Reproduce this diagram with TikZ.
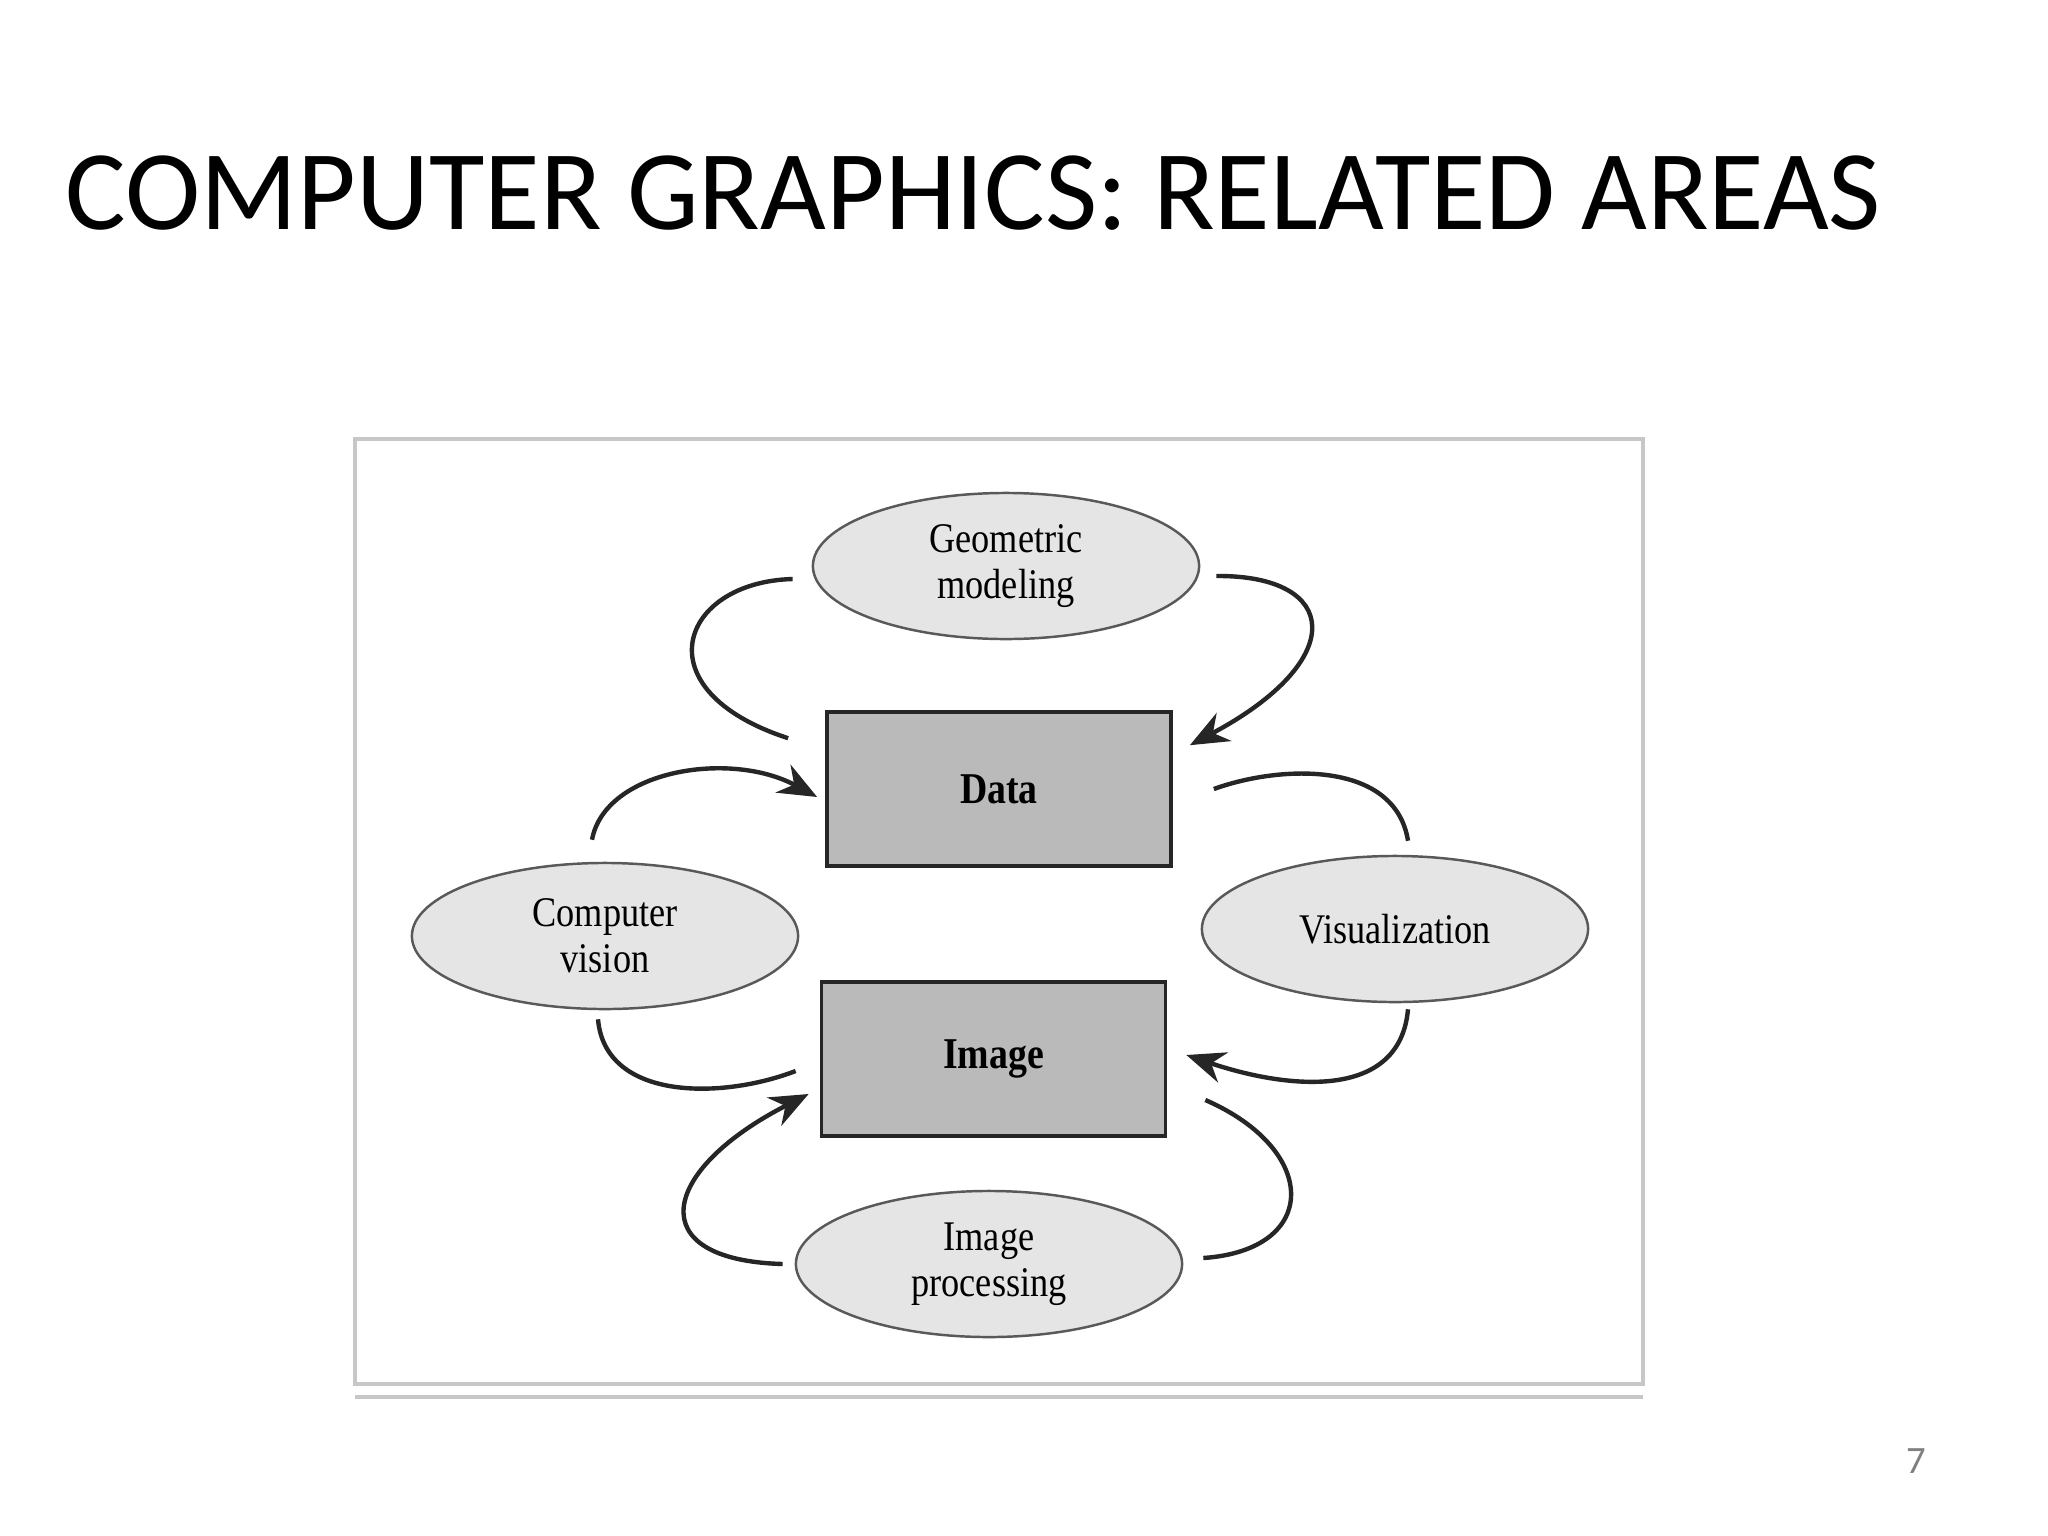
\documentclass[tikz,border=0pt]{standalone}
\usepackage{fontspec}
\setmainfont{Liberation Serif}
\newfontfamily\diagfont[FakeStretch=0.86]{Liberation Serif}
\newfontfamily\titlefont{Carlito}
\usetikzlibrary{shapes.geometric,arrows.meta}
\begin{document}
\begin{tikzpicture}[x=0.01cm,y=-0.01cm,
  area/.style={ellipse,draw=black!65,line width=0.7pt,fill=black!10,minimum width=3.86cm,minimum height=1.46cm,inner sep=0pt,align=center,font=\diagfont\fontsize{12}{13.2}\selectfont},
  core/.style={rectangle,draw=black!85,line width=1pt,fill=black!27,minimum width=3.44cm,minimum height=1.54cm,inner sep=0pt,font=\diagfont\fontsize{12.5}{14}\selectfont\bfseries},
  link/.style={line width=1.25pt,black!85},
  arr/.style={link,-{Stealth[length=11pt,width=9pt]}},
  frame/.style={draw=black!22,line width=1pt}]
\useasboundingbox (0,0) rectangle (2048,1536);
\fill[white] (0,0) rectangle (2048,1536);
% title and page number
\node[anchor=base west,inner sep=0pt,font=\titlefont\fontsize{32.3}{36}\selectfont] (title) at (65,229) {COMPUTER GRAPHICS: RELATED AREAS};
\node[anchor=base,inner sep=0pt,text=black!50,font=\titlefont\fontsize{11}{13}\selectfont] (page) at (1916,1473) {7};
% frame
\draw[frame] (355,439) rectangle (1643,1384);
\draw[frame] (355,1397) -- (1643,1397);
% nodes
\node[area] (geo) at (1006,566) {Geometric\\modeling};
\node[core] (data) at (999,789) {Data};
\node[area] (cv) at (605,936) {Computer\\vision};
\node[area] (vis) at (1395,929) {Visualization};
\node[core] (img) at (993.5,1059) {Image};
\node[area] (ip) at (989,1264) {Image\\processing};
% connectors
\draw[link] ([shift={(-19,13)}]geo.west) .. controls (680,582) and (640,690) .. ([shift={(-37,28)}]data.north west);
\draw[arr] ([shift={(16,10)}]geo.east) .. controls (1340,575) and (1350,660) .. ([shift={(17,35)}]data.north east);
\draw[arr] ([shift={(-13,-22)}]cv.north) .. controls (605,770) and (730,750) .. ([shift={(-8,8)}]data.west);
\draw[link] ([shift={(41,0)}]data.east) .. controls (1280,765) and (1395,760) .. ([shift={(13,-14)}]vis.north);
\draw[link] ([shift={(-7,9)}]cv.south) .. controls (605,1100) and (720,1100) .. ([shift={(-24,12)}]img.west);
\draw[arr] ([shift={(13,6)}]vis.south) .. controls (1400,1100) and (1290,1090) .. ([shift={(19,-4)}]img.east);
\draw[arr] ([shift={(-12,0)}]ip.west) .. controls (640,1260) and (660,1170) .. ([shift={(-11,35)}]img.west);
\draw[link] ([shift={(38,41)}]img.east) .. controls (1320,1150) and (1320,1250) .. ([shift={(20,-6)}]ip.east);
\end{tikzpicture}
\end{document}
